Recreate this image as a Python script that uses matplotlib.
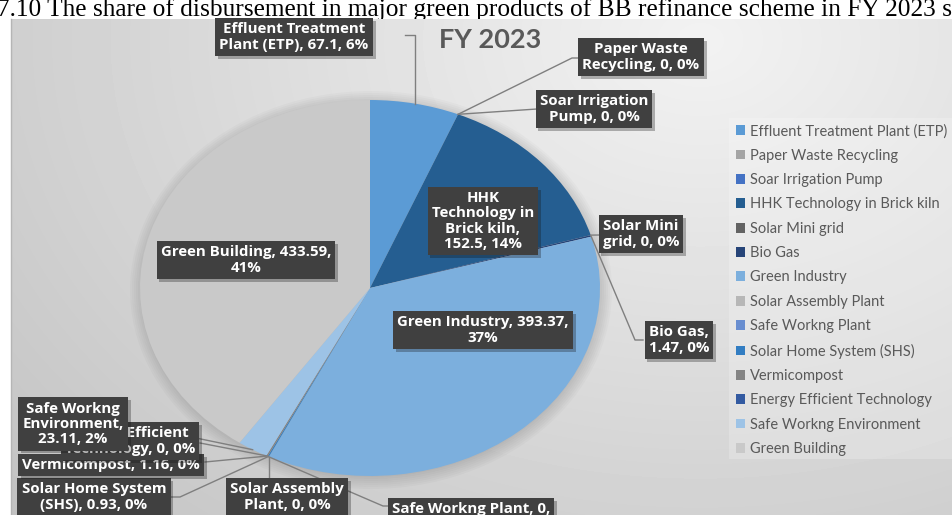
import numpy as np
import matplotlib
matplotlib.use("Agg")
import matplotlib.pyplot as plt
import matplotlib.patheffects as pe
from matplotlib.patches import Ellipse, Rectangle

products = ["Effluent Treatment Plant (ETP)", "Paper Waste Recycling", "Soar Irrigation Pump",
            "HHK Technology in Brick kiln", "Solar Mini grid", "Bio Gas", "Green Industry",
            "Solar Assembly Plant", "Safe Workng Plant", "Solar Home System (SHS)",
            "Vermicompost", "Energy Efficient Technology", "Safe Workng Environment",
            "Green Building"]
amounts = [67.1, 0, 0, 152.5, 0, 1.47, 393.37, 0, 0, 0.93, 1.16, 0, 23.11, 433.59]
label_text = ["Effluent Treatment\nPlant (ETP), 67.1, 6%", "Paper Waste\nRecycling, 0, 0%",
              "Soar Irrigation\nPump, 0, 0%", "HHK\nTechnology in\nBrick kiln,\n152.5, 14%",
              "Solar Mini\ngrid, 0, 0%", "Bio Gas,\n1.47, 0%", "Green Industry, 393.37,\n37%",
              "Solar Assembly\nPlant, 0, 0%", "Safe Workng Plant, 0,\n0%",
              "Solar Home System\n(SHS), 0.93, 0%", "Vermicompost, 1.16, 0%",
              "Energy Efficient\nTechnology, 0, 0%", "Safe Workng\nEnvironment,\n23.11, 2%",
              "Green Building, 433.59,\n41%"]
colors = ["#5B9BD5", "#A5A5A5", "#4472C4", "#255E91", "#636363", "#264478", "#7CAFDD",
          "#B7B7B7", "#698ED0", "#327DC2", "#848484", "#335AA1", "#9DC3E6", "#C9C9C9"]

W, H = 953, 515
fig = plt.figure(figsize=(W / 100, H / 100), dpi=100)

# background (pixel coords, y down)
bg = fig.add_axes([0, 0, 1, 1], zorder=0)
bg.set_xlim(0, W)
bg.set_ylim(H, 0)
bg.axis("off")
bg.text(-3, 16, "7.10 The share of disbursement in major green products of BB refinance scheme in FY 2023 s",
        ha="left", va="baseline", fontsize=18.3, color="black", family="Liberation Serif", zorder=0)
xx, yy = np.meshgrid(np.arange(11, W), np.arange(19, H))
d = np.sqrt(((xx - 700) / 700.0) ** 2 + ((yy - 40) / 520.0) ** 2)
shade = np.clip(0.95 - 0.14 * d, 0, 1)
bg.imshow(shade, cmap="gray", vmin=0, vmax=1, extent=[11, W, H, 19], aspect="auto",
          interpolation="bilinear", zorder=1)
bg.plot([11.5, 11.5], [19, H], color="#b5b5b5", lw=1, zorder=2)
# soft shadow around the pie
for k in range(7):
    bg.add_patch(Ellipse((371, 290), 2 * (229 + 2 * k), 2 * (187 + 2 * k),
                         facecolor="black", alpha=0.018, edgecolor="none", zorder=2))
# legend panel
bg.add_patch(Rectangle((729, 118), W - 729, 341, facecolor="white", alpha=0.22,
                       edgecolor="none", zorder=2))

# pie
pax = fig.add_axes([140 / W, 1 - 476 / H, 460 / W, 376 / H], zorder=1)
wedges, _ = pax.pie(amounts, colors=colors, startangle=90, counterclock=False,
                    wedgeprops=dict(linewidth=0))
pax.set_xlim(-1, 1)
pax.set_ylim(-1, 1)
pax.set_aspect("auto")
pax.axis("off")

# overlay for labels and leaders
ov = fig.add_axes([0, 0, 1, 1], zorder=2)
ov.set_xlim(0, W)
ov.set_ylim(H, 0)
ov.axis("off")
ov.patch.set_visible(False)

anchors = []
for w in wedges:
    t = np.deg2rad((w.theta1 + w.theta2) / 2)
    px, py = pax.transData.transform((np.cos(t), np.sin(t)))
    anchors.append((px, H - py))

label_pos = [(294, 37), (641, 57), (594, 109), (483, 221), (641, 234), (679, 340),
             (483, 330), (287, 497), (471, 517), (94, 497), (111, 465), (130, 441),
             (73, 424), (246, 260)]
label_z = [5, 5, 5, 5, 5, 5, 5, 5, 5, 5, 5, 6, 7, 5]

def leader(i, pts):
    ax_, ay_ = anchors[i]
    xs = [p[0] if p[0] is not None else ax_ for p in pts] + [ax_]
    ys = [p[1] for p in pts] + [ay_]
    ov.plot(xs, ys, color="#7f7f7f", lw=1, zorder=3)

leader(0, [(405, 35), (None, 35)])
leader(1, [(578, 58), (572, 58)])
leader(2, [(537, 109)])
leader(4, [(600, 235)])
leader(5, [(643, 340), (635, 340)])
leader(7, [(None, 478)])
leader(8, [(388, 506), (383, 506)])
leader(9, [(170, 497), (180, 497)])
leader(10, [(205, 462)])
leader(11, [(200, 443)])
leader(12, [(128, 424)])

for i, txt in enumerate(label_text):
    x, y = label_pos[i]
    t = ov.text(x, y, txt, ha="center", va="center", color="white", fontsize=10.8,
                fontweight="bold", family="Open Sans", linespacing=1.12, zorder=label_z[i],
                bbox=dict(boxstyle="square,pad=0.28", facecolor="#404040", edgecolor="none"))
    t.get_bbox_patch().set_path_effects([pe.SimplePatchShadow(offset=(2, -2), alpha=0.3),
                                         pe.Normal()])

ov.text(490, 40, "FY 2023", ha="center", va="center", fontsize=19.5, fontweight="bold",
        color="#595959", family="Lato")

leg = fig.legend(wedges, products, loc="upper left", bbox_to_anchor=(736 / W, 1 - 124 / H),
                 frameon=False, handlelength=0.65, handleheight=0.65,
                 handletextpad=0.3, labelspacing=0.71, borderaxespad=0, borderpad=0,
                 prop=dict(family="Lato", size=10.5))
for t in leg.get_texts():
    t.set_color("#595959")

fig.savefig("out.png", dpi=100)
